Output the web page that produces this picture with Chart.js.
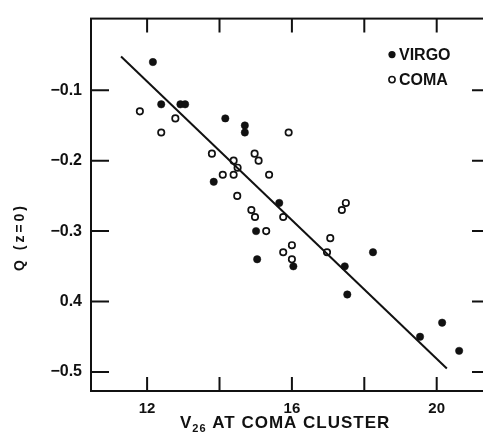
<!DOCTYPE html>
<html><head><meta charset="utf-8">
<script src="https://cdn.jsdelivr.net/npm/chart.js@4/dist/chart.umd.min.js"></script>
<style>html,body{margin:0;padding:0;background:#fff;overflow:hidden}#wrap{width:500px;height:440px}</style>
</head><body><div id="wrap"><canvas id="c" width="500" height="440"></canvas></div>
<script>
// ---- data ----
const virgoX = [12.16, 12.39, 12.92, 13.05, 14.16, 14.70, 14.70, 13.84, 15.65, 15.01, 15.04, 16.04, 17.46, 18.24, 17.53, 19.54, 20.15, 20.62];
const virgoY = [-0.06, -0.12, -0.12, -0.12, -0.14, -0.15, -0.16, -0.23, -0.26, -0.30, -0.34, -0.35, -0.35, -0.33, -0.39, -0.45, -0.43, -0.47];
const comaX  = [11.80, 12.39, 12.78, 13.79, 14.09, 14.39, 14.39, 14.50, 14.49, 14.97, 15.08, 15.37, 14.88, 14.98, 15.29, 15.91, 15.76, 15.76, 16.00, 16.00, 16.97, 17.06, 17.38, 17.49];
const comaY  = [-0.13, -0.16, -0.14, -0.19, -0.22, -0.20, -0.22, -0.21, -0.25, -0.19, -0.20, -0.22, -0.27, -0.28, -0.30, -0.16, -0.28, -0.33, -0.32, -0.34, -0.33, -0.31, -0.27, -0.26];
const fitX   = [11.28, 20.28];
const fitY   = [-0.052, -0.495];
const xTickVals = [12, 14, 16, 18, 20];
const xTickLabels = ['12', '', '16', '', '20'];
const yTickVals = [-0.1, -0.2, -0.3, -0.4, -0.5];
const yTickLabels = ['\u22120.1', '\u22120.2', '\u22120.3', '0.4', '\u22120.5'];
const seriesNames = ['VIRGO', 'COMA'];
const xTitleMain = 'V', xTitleSub = '26', xTitleRest = ' AT COMA CLUSTER';
const yTitle = 'Q (z=0)';

const pts = (xs, ys) => xs.map((x, i) => ({x, y: ys[i]}));
const FONT = '"Liberation Sans", Arial, sans-serif';
const INK = '#111';

const framePlugin = {
  id: 'frame',
  afterDraw(chart) {
    const ctx = chart.ctx, a = chart.chartArea;
    const xs = chart.scales.x, ys = chart.scales.y;
    ctx.save();
    ctx.strokeStyle = INK; ctx.lineWidth = 2;
    ctx.strokeRect(a.left, a.top, a.right - a.left, a.bottom - a.top);
    ctx.beginPath();
    xTickVals.forEach(v => {
      const px = xs.getPixelForValue(v);
      ctx.moveTo(px, a.bottom); ctx.lineTo(px, a.bottom - 14);
      ctx.moveTo(px, a.top); ctx.lineTo(px, a.top + 14);
    });
    yTickVals.forEach(v => {
      const py = ys.getPixelForValue(v);
      ctx.moveTo(a.left, py); ctx.lineTo(a.left + 18, py);
      ctx.moveTo(a.right, py); ctx.lineTo(a.right - 19, py);
    });
    ctx.stroke();

    // legend
    ctx.fillStyle = INK;
    ctx.font = 'bold 16px ' + FONT;
    ctx.textBaseline = 'middle';
    const lx = a.left + 301, ly = a.top + 36;
    ctx.beginPath(); ctx.arc(lx, ly, 3.6, 0, Math.PI * 2); ctx.fill();
    ctx.fillText(seriesNames[0], lx + 7, ly + 1);
    ctx.beginPath(); ctx.arc(lx, ly + 25, 3.1, 0, Math.PI * 2);
    ctx.lineWidth = 1.6; ctx.fillStyle = '#fff'; ctx.fill(); ctx.stroke();
    ctx.fillStyle = INK;
    ctx.fillText(seriesNames[1], lx + 7, ly + 26);

    // x title with subscript
    ctx.textBaseline = 'alphabetic';
    ctx.letterSpacing = '1px';
    let tx = 180, ty = 428;
    ctx.font = 'bold 17px ' + FONT;
    ctx.fillText(xTitleMain, tx, ty);
    tx += ctx.measureText(xTitleMain).width;
    ctx.font = 'bold 11px ' + FONT;
    ctx.fillText(xTitleSub, tx, ty + 4);
    tx += ctx.measureText(xTitleSub).width;
    ctx.font = 'bold 17px ' + FONT;
    ctx.fillText(xTitleRest, tx, ty);

    // y title rotated
    ctx.translate(20, 237);
    ctx.rotate(-Math.PI / 2);
    ctx.letterSpacing = '3px';
    ctx.font = 'bold 14px ' + FONT;
    ctx.textAlign = 'center'; ctx.textBaseline = 'middle';
    ctx.fillText(yTitle, 0, 0);
    ctx.restore();
  }
};

new Chart(document.getElementById('c'), {
  type: 'scatter',
  data: {
    datasets: [
      { label: 'fit', type: 'line', data: pts(fitX, fitY), borderColor: INK, borderWidth: 2, pointRadius: 0, fill: false, showLine: true },
      { label: seriesNames[0], data: pts(virgoX, virgoY), pointRadius: 3.7, pointBackgroundColor: INK, pointBorderColor: INK, pointBorderWidth: 0.5 },
      { label: seriesNames[1], data: pts(comaX, comaY), pointRadius: 3.2, pointBackgroundColor: '#fff', pointBorderColor: INK, pointBorderWidth: 1.7 }
    ]
  },
  options: {
    responsive: false, animation: false, devicePixelRatio: 1,
    layout: { padding: { top: 9, right: 9, left: 0, bottom: 0 } },
    plugins: { legend: { display: false }, tooltip: { enabled: false } },
    scales: {
      x: {
        type: 'linear', min: 10.45, max: 21.5,
        grid: { display: false, drawTicks: false }, border: { display: false },
        afterBuildTicks: s => { s.ticks = xTickVals.map(v => ({ value: v })); },
        afterFit: s => { s.height = 49; },
        ticks: { padding: 9, color: INK, font: { family: FONT, size: 15, weight: 'bold' }, maxRotation: 0,
          callback: (v, i) => xTickLabels[i] }
      },
      y: {
        type: 'linear', min: -0.527, max: 0.0017,
        grid: { display: false, drawTicks: false }, border: { display: false },
        afterBuildTicks: s => { s.ticks = yTickVals.map(v => ({ value: v })); },
        afterFit: s => { s.width = 91; },
        ticks: { padding: 9, color: INK, font: { family: FONT, size: 16, weight: 'bold' },
          callback: (v, i) => yTickLabels[i] }
      }
    }
  },
  plugins: [framePlugin]
});
</script>
</body></html>
